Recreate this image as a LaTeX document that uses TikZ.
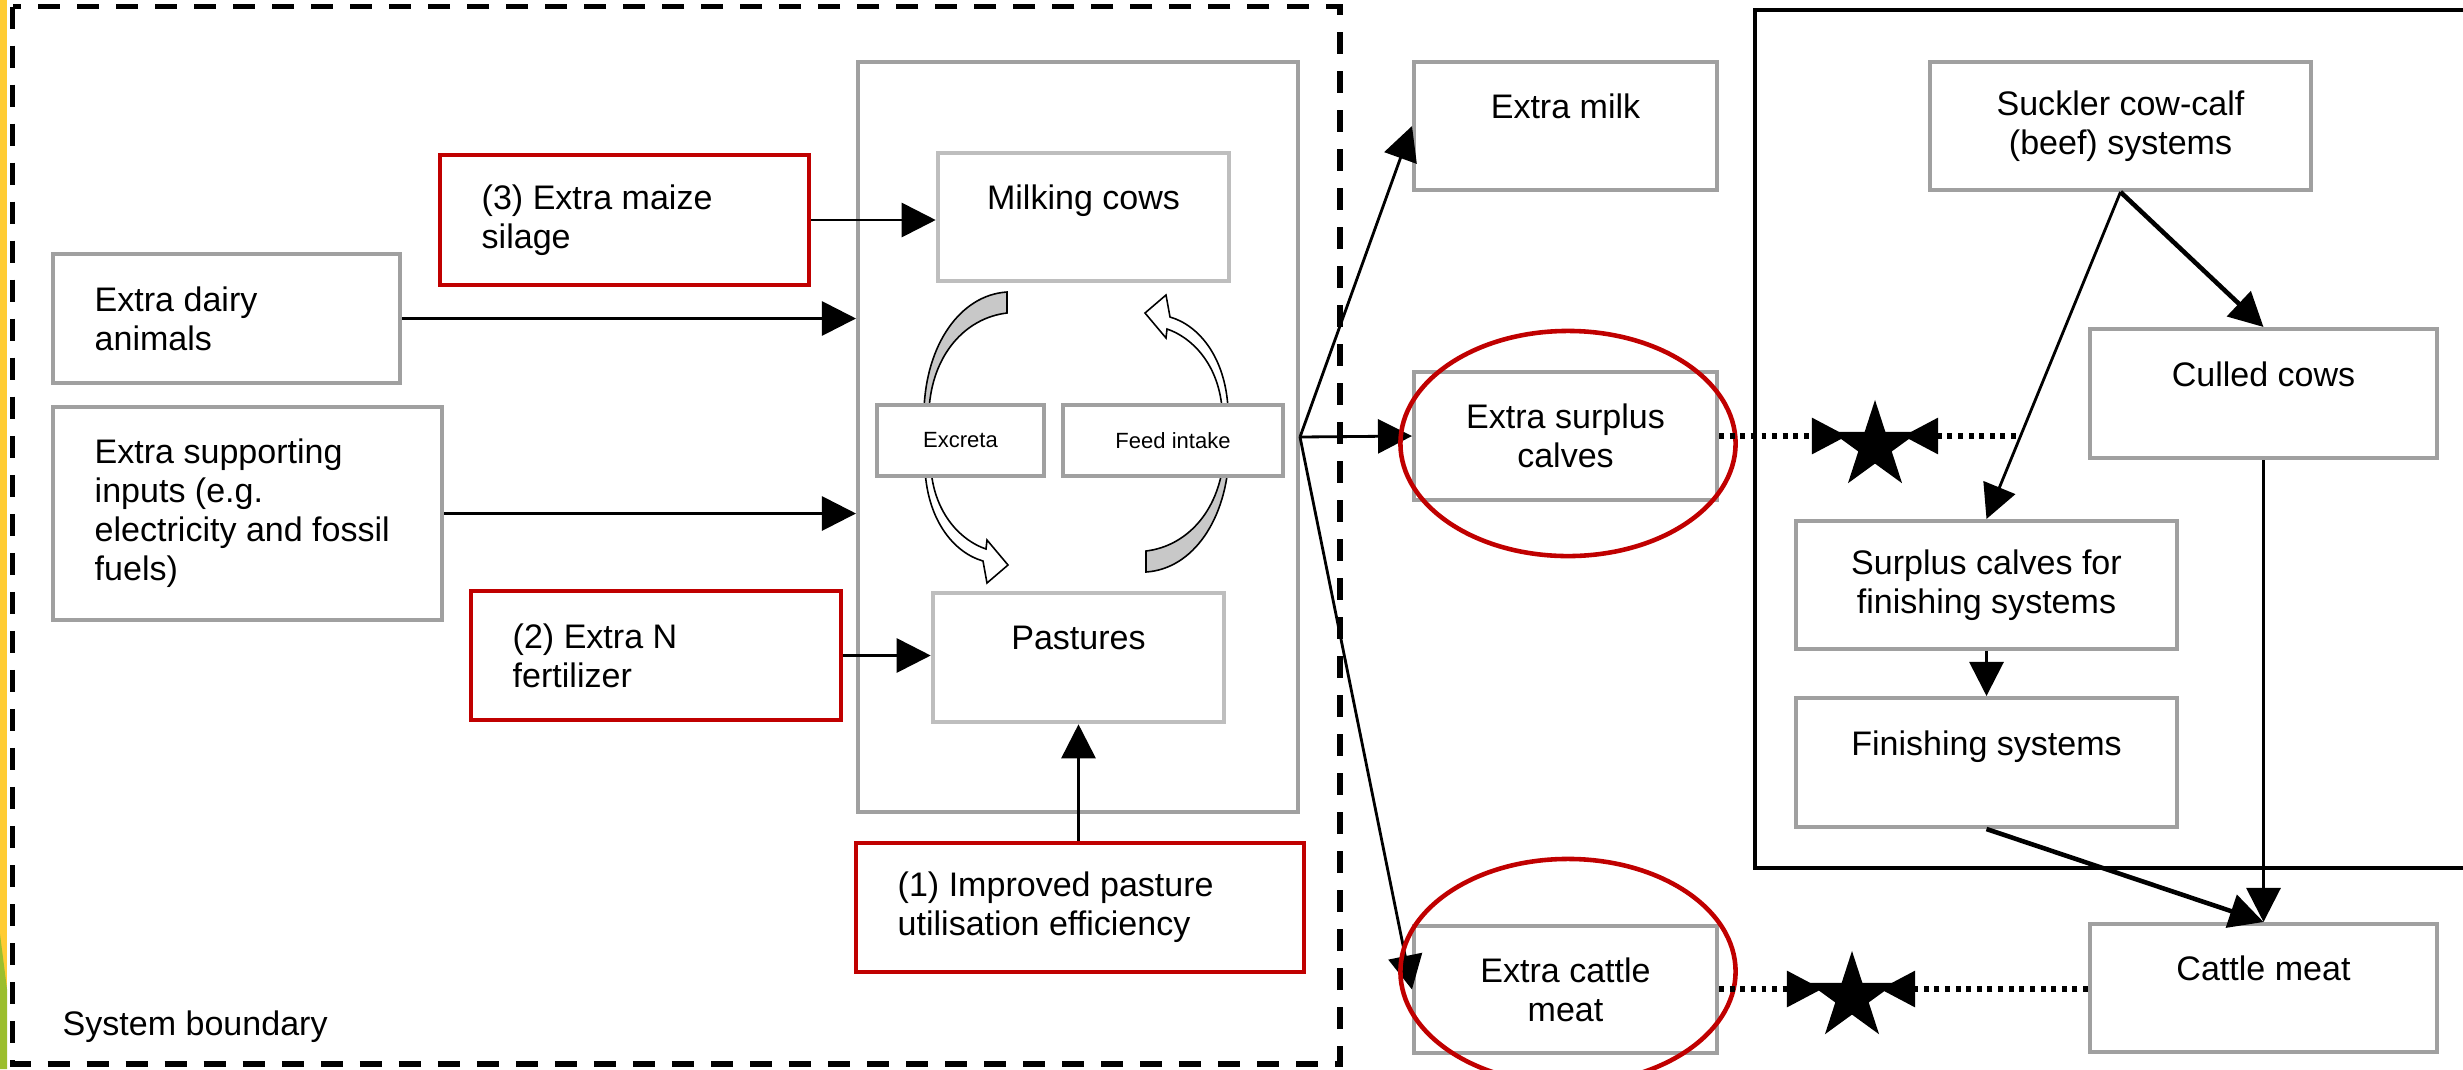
\documentclass[tikz,border=0pt]{standalone}
\usepackage{fontspec}
\setmainfont{Liberation Sans}
\usetikzlibrary{arrows.meta,shapes.geometric}

\definecolor{boxgray}{RGB}{160,160,160}
\definecolor{softgray}{RGB}{190,190,190}
\definecolor{markred}{RGB}{192,0,0}
\definecolor{tailgray}{RGB}{200,200,200}
\definecolor{stripyellow}{RGB}{255,204,51}
\definecolor{stripgreen}{RGB}{155,190,45}

% box spanning the corners (x1,y1)-(x2,y2): style, name, x1, y1, x2, y2, text
\newcommand\mkbox[7]{%
  \node[#1, minimum width={(#5-#3)*0.01cm}, minimum height={(#6-#4)*0.01cm}]
    (#2) at ({(#3+#5)/2},{(#4+#6)/2}) {#7};}
% left-aligned text block inside a named box
\newcommand\mkleft[2]{%
  \node[txt, anchor=west, align=left, inner sep=0pt] (#1-t) at ([xshift=0.43cm]#1.west) {#2};}

\begin{document}
\begin{tikzpicture}[x=0.01cm, y=-0.01cm,
  txt/.style={font=\fontsize{9.68}{11.1}\selectfont},
  smalltxt/.style={font=\fontsize{6.26}{7.5}\selectfont},
  graybox/.style={draw=boxgray, line width=1.14pt, fill=white, inner sep=0pt, txt, align=center},
  softbox/.style={graybox, draw=softgray, line width=1.3pt},
  redbox/.style={graybox, draw=markred},
  smallbox/.style={graybox, line width=0.9pt, smalltxt},
  flow/.style={line width=0.8pt, -{Triangle[length=0.34cm,width=0.34cm]}},
  heavyflow/.style={flow, line width=1.3pt},
  linkdots/.style={line width=1.7pt, dash pattern=on 1.42pt off 1.6pt,
                   -{Triangle[length=0.35cm,width=0.35cm]}},
  ring/.style={draw=markred, line width=1.3pt},
  cycleband/.style={draw=black, line width=0.45pt},
  starmark/.style={star, star points=5, star point ratio=2.618, fill=black,
                   inner sep=0pt, minimum size=0.92cm}
]
\useasboundingbox (0,0) rectangle (2463,1069);

% coloured strip along the left edge
\fill[stripyellow] (0,0) rectangle (7,1069);
\fill[stripgreen] (0,934) -- (7,989) -- (7,1069) -- (0,1069) -- cycle;

% system boundary
\draw[line width=1.7pt, dash pattern=on 0.22cm off 0.17cm] (12.5,6.5) rectangle (1339.5,1064);
\node[txt, anchor=base west, inner sep=0pt] (sysb) at (62,1035) {System boundary};

% beef sector frame (open to the right)
\draw[line width=1.14pt] (2475,10) -- (1755,10) -- (1755,868) -- (2475,868);

% dairy farm
\mkbox{graybox}{inner}{858}{62}{1298}{812}{}
\mkbox{softbox}{cows}{938}{153}{1229}{281}{Milking cows\\\mbox{}}
\mkbox{softbox}{past}{933}{593}{1224}{722}{Pastures\\\mbox{}}

% inputs
\mkbox{redbox}{maize}{440}{155}{809}{285}{}
\mkleft{maize}{(3) Extra maize\\silage}
\mkbox{graybox}{dairy}{53}{254}{400}{383}{}
\mkleft{dairy}{Extra dairy\\animals}
\mkbox{graybox}{sup}{53}{407}{442}{620}{}
\mkleft{sup}{Extra supporting\\inputs (e.g.\\electricity and fossil\\fuels)}
\mkbox{redbox}{nfert}{471}{591}{841}{720}{}
\mkleft{nfert}{(2) Extra N\\fertilizer}
\mkbox{redbox}{impr}{856}{843}{1304}{972}{}
\mkleft{impr}{(1) Improved pasture\\utilisation efficiency}

% outputs
\mkbox{graybox}{milk}{1414}{62}{1717}{190}{Extra milk\\\mbox{}}
\mkbox{graybox}{calves}{1414}{372}{1717}{500}{Extra surplus\\calves}
\mkbox{graybox}{meat}{1414}{926}{1717}{1053}{Extra cattle\\meat}

% beef sector
\mkbox{graybox}{suck}{1930}{62}{2311}{190}{Suckler cow-calf\\(beef) systems}
\mkbox{graybox}{culled}{2090}{329}{2437}{458}{Culled cows\\\mbox{}}
\mkbox{graybox}{scf}{1796}{521}{2177}{649}{Surplus calves for\\finishing systems}
\mkbox{graybox}{fin}{1796}{698}{2177}{827}{Finishing systems\\\mbox{}}
\mkbox{graybox}{cattle}{2090}{924}{2437}{1052}{Cattle meat\\\mbox{}}

% input flows
\draw[flow] (maize.east) -- (maize.east -| cows.west);
\draw[flow] (dairy.east) -- (dairy.east -| inner.west);
\draw[flow] (sup.east) -- (sup.east -| inner.west);
\draw[flow] (nfert.east) -- (nfert.east -| past.west);
\draw[flow] (impr.north -| past.south) -- (past.south);

% output flows
\draw[flow] (inner.east) -- (milk.west);
\draw[flow] (inner.east) -- (calves.west);
\draw[flow] (inner.east) -- (meat.west);

% beef flows
\draw[heavyflow] (suck.south) -- (culled.north);
\draw[flow] (suck.south) -- (scf.north);
\draw[flow] (scf.south) -- (fin.north);
\draw[flow] (culled.south) -- (cattle.north);
\draw[heavyflow] (fin.south) -- (cattle.north);

% nutrient cycle between cows and pastures
\draw[cycleband, fill=tailgray] (1007,292) -- (1007,313)
  .. controls (965,318) and (932,355) .. (929,410) -- (924,410)
  .. controls (926,345) and (960,295) .. (1007,292) -- cycle;
\draw[cycleband, fill=white] (925,470) .. controls (928,522) and (955,553) .. (983,561)
  -- (987,583) -- (1008,565) -- (987,540) -- (986,549)
  .. controls (962,541) and (935,515) .. (931,470) -- cycle;
\begin{scope}[rotate around={180:(1076.5,432)}]
\draw[cycleband, fill=tailgray] (1007,292) -- (1007,313)
  .. controls (965,318) and (932,355) .. (929,410) -- (924,410)
  .. controls (926,345) and (960,295) .. (1007,292) -- cycle;
\end{scope}
\begin{scope}[rotate around={180:(1076.5,439)}]
\draw[cycleband, fill=white] (925,470) .. controls (928,522) and (955,553) .. (983,561)
  -- (987,583) -- (1008,565) -- (987,540) -- (986,549)
  .. controls (962,541) and (935,515) .. (931,470) -- cycle;
\end{scope}
\mkbox{smallbox}{excr}{877}{405}{1044}{476}{Excreta}
\mkbox{smallbox}{feed}{1063}{405}{1283}{476}{Feed intake}

% highlighted outputs
\draw[ring] (1568,443.5) ellipse [x radius=1.675cm, y radius=1.125cm];
\draw[ring] (1568,971.5) ellipse [x radius=1.675cm, y radius=1.125cm];

% substitution markers
\node[starmark] (s1) at (1875,446) {};
\node[starmark] (s2) at (1852,997) {};
\coordinate (s1w) at (1847,436);
\coordinate (s1e) at (1903,436);
\coordinate (s2w) at (1822,989);
\coordinate (s2e) at (1880,989);
\coordinate (branch) at (2016,436);
\draw[linkdots] (calves.east) -- (s1w);
\draw[linkdots] (branch) -- (s1e);
\draw[linkdots] (meat.east |- s2w) -- (s2w);
\draw[linkdots] (cattle.west |- s2e) -- (s2e);
\end{tikzpicture}
\end{document}
